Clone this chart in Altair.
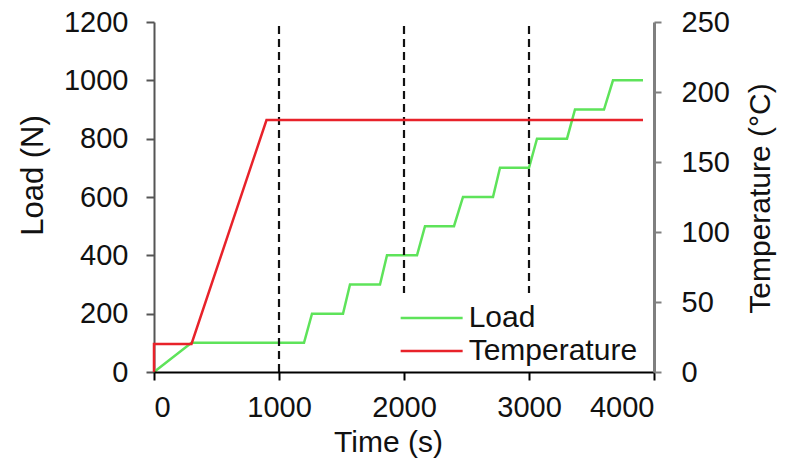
import altair as alt
import pandas as pd

FONT = "Liberation Sans"

# Load series (time s, load N)
load_t = [0, 300, 1200, 1264, 1512, 1568, 1808, 1864, 2104, 2168, 2400, 2472,
          2712, 2768, 3000, 3064, 3304, 3368, 3600, 3672, 3912]
load_v = [0, 100, 100, 200, 200, 300, 300, 400, 400, 500, 500, 600,
          600, 700, 700, 800, 800, 900, 900, 1000, 1000]

# Temperature series (time s, °C)
temp_t = [0, 0, 300, 900, 3912]
temp_v = [0, 20, 20, 180, 180]

# vertical dashed markers
mark_t = [1000, 2000, 3000]

series_names = ["Load", "Temperature"]
series_colors = ["#5ee35a", "#e8222a"]

load_df = pd.DataFrame({"t": load_t, "v": load_v, "i": range(len(load_t)), "s": "Load"})
temp_df = pd.DataFrame({"t": temp_t, "v": temp_v, "i": range(len(temp_t)), "s": "Temperature"})
mark_df = pd.DataFrame({"t": mark_t})

xscale = alt.Scale(domain=[0, 4000], nice=False)
color = alt.Color(
    "s:N",
    scale=alt.Scale(domain=series_names, range=series_colors),
    legend=alt.Legend(
        orient="none", legendX=236, legendY=271, title=None,
        symbolType="M-3,0H3", symbolSize=427, symbolStrokeWidth=2.5,
        symbolOffset=16.65,
        labelFontSize=30, labelFont=FONT, labelColor="#111",
        padding=10, fillColor="white", rowPadding=3, labelOffset=22,
        labelLimit=400, zindex=1,
    ),
)

xaxis = alt.Axis(
    values=[0, 1000, 2000, 3000, 4000], format="d", title="Time (s)", grid=False,
    domainColor="black", tickColor="black", domainWidth=2, tickWidth=2,
    tickSize=8, labelPadding=13, labelFontSize=29, labelFont=FONT,
    labelColor="#111", titleFontSize=30, titleFont=FONT, titleFontWeight="normal",
    titleColor="#111", titleX=234, titleY=70, titleAlign="center",
    titleBaseline="middle", zindex=2,
)

load_line = alt.Chart(load_df).mark_line(strokeWidth=2.5).encode(
    x=alt.X("t:Q", scale=xscale, axis=xaxis),
    y=alt.Y("v:Q", scale=alt.Scale(domain=[0, 1200], nice=False),
            axis=alt.Axis(
                values=[0, 200, 400, 600, 800, 1000, 1200], format="d", title="Load (N)",
                grid=False, domainColor="#555", tickColor="#555",
                domainWidth=2, tickWidth=2, tickSize=8, labelPadding=18,
                labelFontSize=29, labelFont=FONT, labelColor="#111",
                titleFontSize=31, titleFont=FONT, titleFontWeight="normal",
                titleColor="#111", titleAngle=270, titleX=-121, titleY=153,
                titleAlign="center", titleBaseline="middle", zindex=0)),
    color=color,
    order="i:Q",
)

rules = alt.Chart(mark_df).mark_rule(color="#111", strokeWidth=2.2, strokeDash=[8, 5]).encode(
    x=alt.X("t:Q", scale=xscale),
    y=alt.datum(0),
    y2=alt.datum(1200),
)

temp_line = alt.Chart(temp_df).mark_line(strokeWidth=2.5).encode(
    x=alt.X("t:Q", scale=xscale),
    y=alt.Y("v:Q", scale=alt.Scale(domain=[0, 250], nice=False),
            axis=alt.Axis(
                orient="right", values=[0, 50, 100, 150, 200, 250], format="d",
                title="Temperature (°C)", grid=False, domainColor="#7f7f7f",
                tickColor="#7f7f7f", domainWidth=3, tickWidth=2, tickSize=7,
                labelPadding=20, labelFontSize=29, labelFont=FONT,
                labelColor="#111", titleFontSize=30, titleFont=FONT,
                titleFontWeight="normal", titleColor="#111", titleAngle=270,
                titleX=106, titleY=176, titleAlign="center",
                titleBaseline="middle", zindex=2)),
    color=alt.Color("s:N"),
    order="i:Q",
)

left = alt.layer(load_line, rules)
chart = alt.layer(left, temp_line).resolve_scale(y="independent").properties(
    width=500, height=350,
    autosize=alt.AutoSizeParams(type="none"),
    padding={"left": 154, "top": 22, "right": 140, "bottom": 90},
    background="white",
).configure_view(stroke=None)

chart.save("out.html", embed_options={"renderer": "svg", "actions": False})
